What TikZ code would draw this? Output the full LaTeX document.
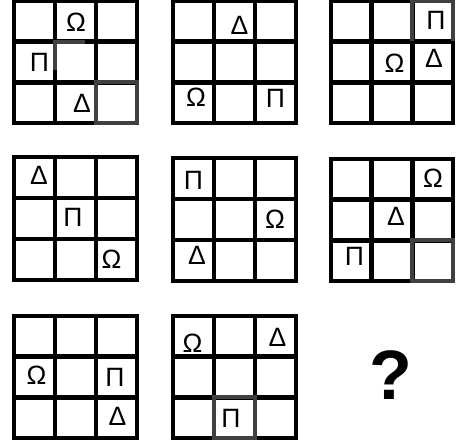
\documentclass[tikz,border=0pt]{standalone}
\usepackage{fontspec}
\setmainfont{Liberation Sans}
\definecolor{cellgrey}{HTML}{404040}
\tikzset{
  gridline/.style={line width=4.6pt, black},
  greyline/.style={line width=4.6pt, cellgrey},
  sym/.style={inner sep=0pt, font=\fontsize{26.5}{26.5}\selectfont},
}
\newcommand{\mygrid}[4]{% x0 y0 x1 y1
  \draw[gridline] (#1,#2) rectangle (#3,#4);
  \draw[gridline] ({#1+(#3-#1)/3},#2) -- ({#1+(#3-#1)/3},#4);
  \draw[gridline] ({#1+2*(#3-#1)/3},#2) -- ({#1+2*(#3-#1)/3},#4);
  \draw[gridline] (#1,{#2+(#4-#2)/3}) -- (#3,{#2+(#4-#2)/3});
  \draw[gridline] (#1,{#2+2*(#4-#2)/3}) -- (#3,{#2+2*(#4-#2)/3});
}
\begin{document}
\begin{tikzpicture}[x=1pt,y=-1pt]
\useasboundingbox[fill=white] (0,0) rectangle (456,444);
% grids
\mygrid{14}{1}{137}{123}
\mygrid{173}{1}{296}{123}
\mygrid{331}{1}{453}{123}
\mygrid{14}{157}{137}{280}
\mygrid{173}{158}{296}{281}
\mygrid{331}{159}{453}{281}
\mygrid{14}{316}{137}{438}
\mygrid{173}{316}{296}{438}
% grey cells
\draw[greyline] (55,70) -- (55,42) -- (85,42);
\draw[greyline] (96,82) rectangle (137,123);
\draw[greyline] (412,41) -- (412,1) -- (453,1) -- (453,41);
\draw[greyline] (412,240) rectangle (453,281);
\draw[greyline] (214,397) rectangle (255,438);
% grid 1
\node[sym] (g1o) at (76,22.5) {Ω};
\node[sym] (g1p) at (39.5,62.5) {Π};
\node[sym] (g1d) at (82,103.5) {Δ};
% grid 2
\node[sym] (g2d) at (239.5,25) {Δ};
\node[sym] (g2o) at (196,97.5) {Ω};
\node[sym] (g2p) at (275.5,98) {Π};
% grid 3
\node[sym] (g3p) at (436,20.5) {Π};
\node[sym] (g3o) at (394.5,63.5) {Ω};
\node[sym] (g3d) at (434,58.5) {Δ};
% grid 4
\node[sym] (g4d) at (39,175) {Δ};
\node[sym] (g4p) at (73,217.5) {Π};
\node[sym] (g4o) at (111.5,259.5) {Ω};
% grid 5
\node[sym] (g5p) at (193.5,180) {Π};
\node[sym] (g5o) at (275,219.5) {Ω};
\node[sym] (g5d) at (197,255) {Δ};
% grid 6
\node[sym] (g6o) at (433,178.5) {Ω};
\node[sym] (g6d) at (396,216.5) {Δ};
\node[sym] (g6p) at (354.5,256) {Π};
% grid 7
\node[sym] (g7o) at (36.5,375.5) {Ω};
\node[sym] (g7p) at (115,377.5) {Π};
\node[sym] (g7d) at (117.5,416) {Δ};
% grid 8
\node[sym] (g8o) at (192.5,343.5) {Ω};
\node[sym] (g8d) at (277.5,337) {Δ};
\node[sym] (g8p) at (231,418.5) {Π};
% question mark
\node[inner sep=0pt, font=\fontsize{70}{70}\selectfont\bfseries] (q) at (391,375) {?};
\end{tikzpicture}
\end{document}
